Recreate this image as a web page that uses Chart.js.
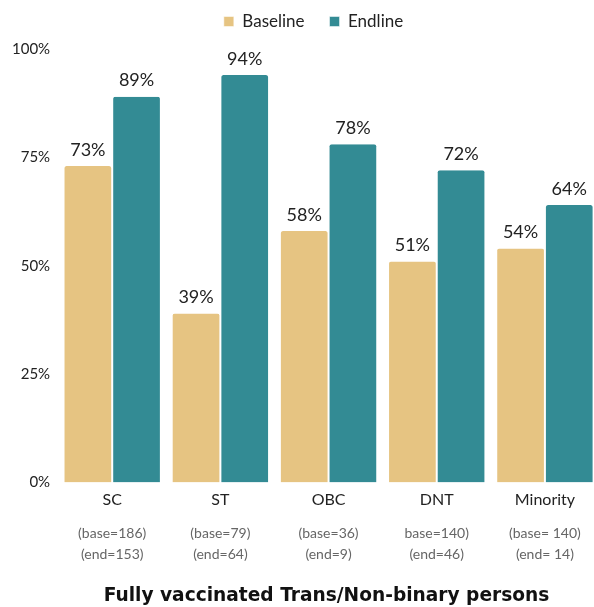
<!DOCTYPE html>
<html>
<head>
<meta charset="utf-8">
<script src="https://cdn.jsdelivr.net/npm/chart.js@4/dist/chart.umd.min.js"></script>
<style>
  html, body { margin: 0; padding: 0; background: #fff; overflow: hidden; }
  #wrap { width: 620px; height: 607px; }
</style>
</head>
<body>
<div id="wrap"><canvas id="c"></canvas></div>
<script>
// Caste groups and sample sizes
const categories = ["SC", "ST", "OBC", "DNT", "Minority"];
const sampleLabels = [
  ["(base=186)", "(end=153)"],
  ["(base=79)", "(end=64)"],
  ["(base=36)", "(end=9)"],
  ["base=140)", "(end=46)"],
  ["(base= 140)", "(end= 14)"]
];
// Share fully vaccinated (%)
const baseline = [73, 39, 58, 51, 54];
const endline = [89, 94, 78, 72, 64];
const yTicks = [0, 25, 50, 75, 100];

const FONT = "Lato, 'Open Sans', sans-serif";

// Percent labels above each bar
const valueLabels = {
  id: 'valueLabels',
  afterDatasetsDraw(chart) {
    const ctx = chart.ctx;
    ctx.save();
    ctx.font = `18px ${FONT}`;
    ctx.fillStyle = '#222';
    ctx.textAlign = 'center';
    ctx.textBaseline = 'bottom';
    chart.data.datasets.forEach((ds, i) => {
      const meta = chart.getDatasetMeta(i);
      meta.data.forEach((bar, j) => {
        ctx.fillText(ds.data[j] + '%', bar.x, bar.y - 7);
      });
    });
    ctx.restore();
  }
};

// Legend: wide item spacing but compact height; legend and title centred over the bars
const boxTweaks = {
  id: 'boxTweaks',
  beforeInit(chart) {
    const fit = chart.legend.fit;
    chart.legend.fit = function () {
      fit.call(this);
      this.height -= 6;
    };
  },
  afterLayout(chart) {
    chart.legend.left += 24;
    chart.legend.top -= 15;
    chart.titleBlock.left += 50;
  }
};

new Chart(document.getElementById('c'), {
  type: 'bar',
  data: {
    labels: categories,
    datasets: [
      { label: 'Baseline', data: baseline, backgroundColor: '#E6C482',
        borderColor: '#ffffff', borderWidth: { left: 1, right: 1 },
        borderRadius: { topLeft: 3, topRight: 3 }, borderSkipped: 'bottom' },
      { label: 'Endline', data: endline, backgroundColor: '#338B94',
        borderColor: '#ffffff', borderWidth: { left: 1, right: 1 },
        borderRadius: { topLeft: 3, topRight: 3 }, borderSkipped: 'bottom' }
    ]
  },
  options: {
    responsive: true,
    maintainAspectRatio: false,
    animation: false,
    layout: { padding: { left: 4, right: 21, top: 3, bottom: 0 } },
    datasets: { bar: { categoryPercentage: 0.9, barPercentage: 1.0 } },
    scales: {
      x: {
        grid: { display: false, drawTicks: false },
        border: { display: false },
        ticks: { color: '#222', font: { family: FONT, size: 16 }, padding: 8 }
      },
      x2: {
        type: 'category',
        labels: sampleLabels,
        position: 'bottom',
        grid: { display: false, drawTicks: false },
        border: { display: false },
        ticks: { color: '#666', font: { family: FONT, size: 14, lineHeight: 1.5 }, padding: 5 }
      },
      y: {
        min: 0, max: 100,
        afterBuildTicks(axis) { axis.ticks = yTicks.map(v => ({ value: v })); },
        grid: { display: false, drawTicks: false },
        border: { display: false },
        ticks: { color: '#222', font: { family: FONT, size: 15 }, padding: 8,
                 callback: v => v + '%' }
      }
    },
    plugins: {
      legend: {
        position: 'top',
        labels: { color: '#222', font: { family: FONT, size: 17 },
                  boxWidth: 10, boxHeight: 10, padding: 25 }
      },
      title: {
        display: true,
        position: 'bottom',
        text: 'Fully vaccinated Trans/Non-binary persons',
        color: '#111',
        font: { family: "'DejaVu Sans', 'Open Sans', sans-serif", size: 18.6, weight: 'bold' },
        padding: { top: 15, bottom: 0 }
      },
      tooltip: { enabled: false }
    }
  },
  plugins: [valueLabels, boxTweaks]
});
</script>
</body>
</html>
